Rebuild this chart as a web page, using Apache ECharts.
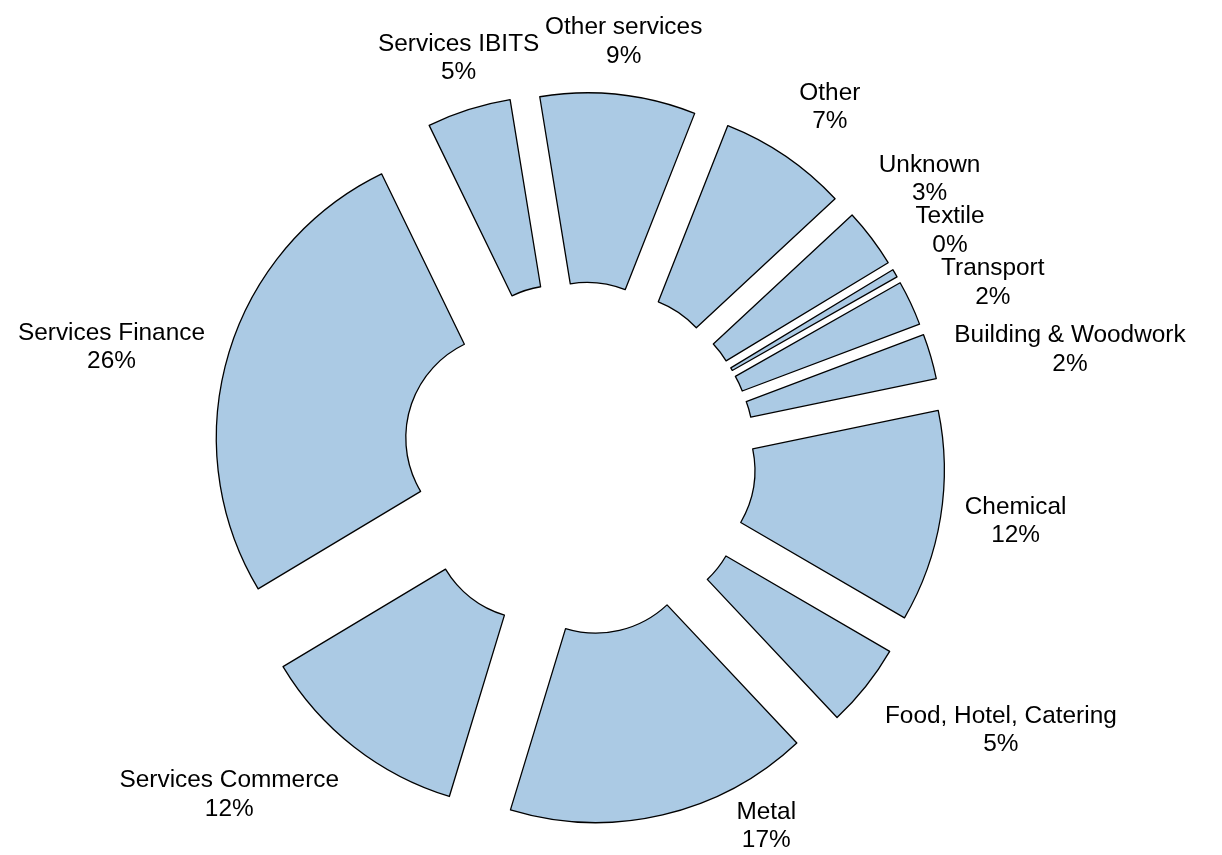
<!DOCTYPE html>
<html>
<head>
<meta charset="utf-8">
<script src="https://cdn.jsdelivr.net/npm/echarts@6/dist/echarts.min.js"></script>
<style>
html,body{margin:0;padding:0;background:#ffffff;}
#chart{width:1222px;height:855px;}
</style>
</head>
<body>
<div id="chart"></div>
<script>
// ---- data (clockwise from the top) ----
const categories = ['Other services', 'Other', 'Unknown', 'Textile', 'Transport',
  'Building & Woodwork', 'Chemical', 'Food, Hotel, Catering', 'Metal',
  'Services Commerce', 'Services Finance', 'Services IBITS'];
const shares = [8.55, 7.1, 3.25, 0.45, 2.48, 2.48, 11.65, 4.6, 16.7, 11.7, 26.4, 4.62];

// ---- layout / style ----
const W = 1222, H = 855;
const CX = 579.3, CY = 458.5;
const R_OUT = 293.5, R_IN = 104;
const EXPLODE = 72.5;
const LABEL_DIST = 318;
const START_CW = -9.27;            // first slice starts this many degrees clockwise from 12 o'clock
const FILL = '#abcae4';
const FONT = "'Liberation Sans', Arial, sans-serif";
const FONT_SIZE = 24.4, LINE_H = 28.7;

const total = shares.reduce((a, b) => a + b, 0);
const mids = [];
(function () {
  let acc = START_CW;
  shares.forEach(v => { const span = v / total * 360; mids.push(acc + span / 2); acc += span; });
})();

function unit(th) { const r = th * Math.PI / 180; return [Math.sin(r), -Math.cos(r)]; }
function alignOf(th) {
  const phi = (((90 - th) % 360) + 360) % 360;
  if (phi <= 22.5 || phi >= 337.5) return [1, 0];
  if (phi < 67.5) return [1, -1];
  if (phi < 112.5) return [0, -1];
  if (phi <= 157.5) return [-1, -1];
  if (phi <= 202.5) return [-1, 0];
  if (phi < 247.5) return [-1, 1];
  if (phi < 292.5) return [0, 1];
  return [1, 1];
}
function angDiff(a, b) { let d = (a - b) % 360; if (d > 180) d -= 360; if (d < -180) d += 360; return d; }

// label line widths (measured with the label font)
const ctx = document.createElement('canvas').getContext('2d');
ctx.font = FONT_SIZE + 'px ' + FONT;
const lineWidths = categories.map((n, i) => {
  const pct = Math.round(shares[i] / total * 100) + '%';
  return [ctx.measureText(n).width, ctx.measureText(pct).width];
});

function boxFor(i, th) {
  const w = Math.max(lineWidths[i][0], lineWidths[i][1]), h = 2 * LINE_H;
  const um = unit(mids[i]);
  const sx = CX + EXPLODE * um[0], sy = CY + EXPLODE * um[1];
  const u = unit(th);
  const ax = sx + LABEL_DIST * u[0], ay = sy + LABEL_DIST * u[1];
  const k = alignOf(mids[i]);
  const cx = ax + k[0] * w / 2, cy = ay + k[1] * h / 2;
  return { cx: cx, cy: cy, x1: cx - w / 2, x2: cx + w / 2, y1: cy - h / 2, y2: cy + h / 2 };
}
function linesFor(i, th) {
  const b = boxFor(i, th);
  return lineWidths[i].map((lw, k) => ({ x1: b.cx - lw / 2, x2: b.cx + lw / 2, yc: b.cy + (k - 0.5) * LINE_H }));
}
const PADX = 4, GLYPH_SEP = 22;
function collide(i, ti, j, tj) {
  const A = linesFor(i, ti), B = linesFor(j, tj);
  for (const a of A) for (const b of B) {
    if (a.x1 < b.x2 + PADX && b.x1 < a.x2 + PADX && Math.abs(a.yc - b.yc) < GLYPH_SEP) return true;
  }
  return false;
}
function outDir(b, th) {
  if (b.y2 > H) return angDiff(th, 180) >= 0 ? 1 : -1;
  if (b.y1 < 0) return angDiff(th, 0) >= 0 ? 1 : -1;
  if (b.x2 > W) return angDiff(th, 90) >= 0 ? 1 : -1;
  if (b.x1 < 0) return angDiff(th, 270) >= 0 ? 1 : -1;
  return 0;
}
// spread overlapping labels apart along their circle
const thetas = mids.slice();
(function relax() {
  const STEP = 0.25, n = thetas.length;
  for (let it = 0; it < 3000; it++) {
    let moved = false;
    for (let i = 0; i < n; i++) {
      for (let j = i + 1; j < n; j++) {
        if (collide(i, thetas[i], j, thetas[j])) {
          const s = angDiff(thetas[i], thetas[j]) >= 0 ? 1 : -1;
          thetas[i] += s * STEP; thetas[j] -= s * STEP; moved = true;
        }
      }
      const d = outDir(boxFor(i, thetas[i]), thetas[i]);
      if (d) { thetas[i] += d * STEP; moved = true; }
    }
    if (!moved) break;
  }
})();
const labelBoxes = thetas.map((t, i) => boxFor(i, t));

function layoutLabel(p) {
  const b = labelBoxes[p.dataIndex];
  return { x: b.cx, y: b.cy, align: 'center', verticalAlign: 'middle' };
}

const pieData = categories.map((n, i) => ({ name: n, value: shares[i] }));

const chart = echarts.init(document.getElementById('chart'), null, { renderer: 'canvas', width: W, height: H });
chart.setOption({
  backgroundColor: '#ffffff',
  animation: false,
  series: [
    {
      type: 'pie',
      center: [CX, CY],
      radius: [R_IN, R_OUT],
      startAngle: 90 - START_CW,
      clockwise: true,
      silent: true,
      selectedMode: 'multiple',
      selectedOffset: EXPLODE,
      avoidLabelOverlap: false,
      data: pieData.map(d => Object.assign({ selected: true }, d)),
      label: { show: false },
      labelLine: { show: false },
      itemStyle: { color: FILL, borderColor: '#000000', borderWidth: 1.3 },
      select: { itemStyle: { color: FILL, borderColor: '#000000', borderWidth: 1.3 } },
      emphasis: { disabled: true }
    },
    {
      type: 'pie',
      center: [CX, CY],
      radius: [R_IN, R_OUT],
      startAngle: 90 - START_CW,
      clockwise: true,
      silent: true,
      avoidLabelOverlap: false,
      data: pieData,
      itemStyle: { color: 'rgba(0,0,0,0)', borderWidth: 0 },
      label: {
        show: true,
        position: 'outside',
        color: '#000000',
        fontFamily: FONT,
        fontSize: FONT_SIZE,
        lineHeight: LINE_H,
        align: 'center',
        formatter: p => p.name + '\n' + Math.round(p.percent) + '%'
      },
      labelLine: { show: false },
      labelLayout: layoutLabel,
      emphasis: { disabled: true }
    }
  ]
});
</script>
</body>
</html>
